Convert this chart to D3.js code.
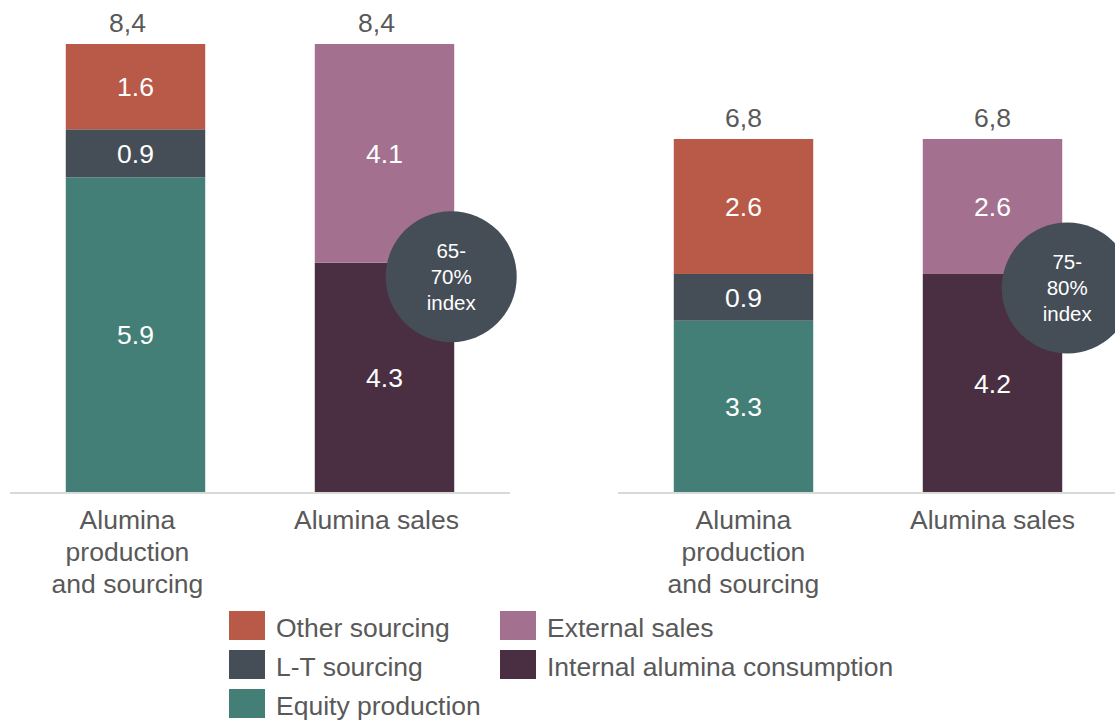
<!DOCTYPE html>
<html>
<head>
<meta charset="utf-8">
<script src="https://cdn.jsdelivr.net/npm/d3@7"></script>
<style>
  body { margin: 0; background: #fff; }
  svg { display: block; font-family: "Liberation Sans", Arial, sans-serif; }
</style>
</head>
<body>
<svg id="chart" width="1115" height="720"></svg>
<script>
// data
const categories = ["Alumina production and sourcing", "Alumina sales"];
const panels = ["left", "right"];
const otherSourcing = [1.6, 2.6];
const ltSourcing = [0.9, 0.9];
const equityProduction = [5.9, 3.3];
const externalSales = [4.1, 2.6];
const internalConsumption = [4.3, 4.2];
const totals = [8.4, 6.8];
const indexLabels = [["65-", "70%", "index"], ["75-", "80%", "index"]];

const colors = {
  other: "#b85a47",
  lt: "#454d57",
  equity: "#437f77",
  external: "#a3718f",
  internal: "#4a2f42"
};
const gray = "#595959";

const svg = d3.select("#chart");
const baseY = 492;
const fontSize = "26.5px";

const commaFmt = d3.formatLocale({decimal: ",", thousands: ".", grouping: [3], currency: ["", ""]}).format(".1f");
const dotFmt = d3.format(".1f");

// panel geometry (x range of each axis line, top of tallest bar, bubble / label nudges)
const panelCfg = [
  {x0: 10, x1: 510, top: 44, nudge: -3, labelNudge: -8},
  {x0: 618, x1: 1118, top: 139, nudge: 5, labelNudge: 0}
];

panels.forEach((p, i) => {
  const cfg = panelCfg[i];
  const x = d3.scaleBand()
    .domain(categories)
    .range([cfg.x0, cfg.x1])
    .paddingInner(0.44)
    .paddingOuter(0.224);

  const y = d3.scaleLinear()
    .domain([0, totals[i]])
    .range([baseY, cfg.top]);

  const g = svg.append("g").attr("class", "panel-" + p);

  // stacks for each bar
  const stacks = [
    [
      {key: "equity", v: equityProduction[i]},
      {key: "lt", v: ltSourcing[i]},
      {key: "other", v: otherSourcing[i]}
    ],
    [
      {key: "internal", v: internalConsumption[i]},
      {key: "external", v: externalSales[i]}
    ]
  ];

  stacks.forEach((segs, j) => {
    let acc = 0;
    segs.forEach(s => { s.y0 = acc; acc += s.v; s.y1 = acc; });
    const cat = categories[j];
    const bg = g.append("g");
    bg.selectAll("rect")
      .data(segs)
      .enter()
      .append("rect")
      .attr("x", x(cat))
      .attr("width", x.bandwidth())
      .attr("y", d => y(d.y1))
      .attr("height", d => y(d.y0) - y(d.y1))
      .style("fill", d => colors[d.key]);

    bg.selectAll("text.val")
      .data(segs)
      .enter()
      .append("text")
      .attr("class", "val")
      .attr("x", x(cat) + x.bandwidth() / 2)
      .attr("y", d => (y(d.y0) + y(d.y1)) / 2)
      .attr("dy", "0.36em")
      .attr("text-anchor", "middle")
      .style("font-size", fontSize)
      .style("fill", "#fff")
      .text(d => dotFmt(d.v));

    // total on top
    g.append("text")
      .attr("x", x(cat) + x.bandwidth() / 2 + cfg.labelNudge)
      .attr("y", y(acc) - 12)
      .attr("text-anchor", "middle")
      .style("font-size", fontSize)
      .style("fill", gray)
      .text(commaFmt(totals[i]));
  });

  // baseline
  g.append("line")
    .attr("x1", cfg.x0).attr("x2", cfg.x1)
    .attr("y1", baseY + 1).attr("y2", baseY + 1)
    .style("stroke", "#d9d9d9")
    .style("stroke-width", 2);

  // category labels
  const wrapLines = [["Alumina", "production", "and sourcing"], ["Alumina sales"]];
  categories.forEach((cat, j) => {
    const lx = x(cat) + x.bandwidth() / 2 + cfg.labelNudge;
    const t = g.append("text")
      .attr("x", lx)
      .attr("y", baseY + 37)
      .attr("text-anchor", "middle")
      .style("font-size", fontSize)
      .style("fill", gray);
    wrapLines[j].forEach((ln, k) => {
      t.append("tspan")
        .attr("x", lx)
        .attr("dy", k === 0 ? 0 : 32)
        .text(ln);
    });
  });

  // index bubble at the boundary of the sales bar
  const salesCat = categories[1];
  const cx = x(salesCat) + x.bandwidth() + cfg.nudge;
  const cy = y(internalConsumption[i]) + 14;
  g.append("circle")
    .attr("cx", cx)
    .attr("cy", cy)
    .attr("r", 65.5)
    .style("fill", colors.lt);
  const bt = g.append("text")
    .attr("text-anchor", "middle")
    .style("font-size", "20.5px")
    .style("fill", "#fff");
  indexLabels[i].forEach((ln, k) => {
    bt.append("tspan")
      .attr("x", cx)
      .attr("y", cy - 26 + k * 26)
      .attr("dy", "0.36em")
      .text(ln);
  });
});

// legend
const legendItems = [
  {label: "Other sourcing", key: "other", col: 0, row: 0},
  {label: "L-T sourcing", key: "lt", col: 0, row: 1},
  {label: "Equity production", key: "equity", col: 0, row: 2},
  {label: "External sales", key: "external", col: 1, row: 0},
  {label: "Internal alumina consumption", key: "internal", col: 1, row: 1}
];
const legend = svg.append("g").attr("class", "legend");
const li = legend.selectAll("g")
  .data(legendItems)
  .enter()
  .append("g")
  .attr("transform", d => `translate(${229 + d.col * 271}, ${611 + d.row * 39})`);
li.append("rect")
  .attr("width", 36)
  .attr("height", 29)
  .style("fill", d => colors[d.key]);
li.append("text")
  .attr("x", 47)
  .attr("y", 16)
  .attr("dy", "0.36em")
  .style("font-size", fontSize)
  .style("fill", gray)
  .text(d => d.label);
</script>
</body>
</html>
